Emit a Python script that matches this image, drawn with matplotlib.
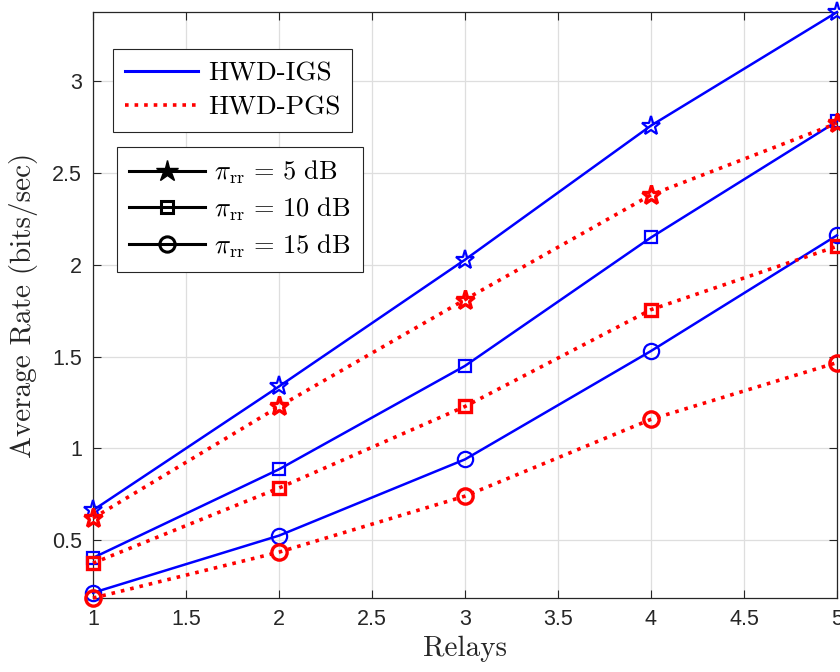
import numpy as np
import matplotlib
matplotlib.use("Agg")
import matplotlib.pyplot as plt
from matplotlib.lines import Line2D

# data
relays = [1, 2, 3, 4, 5]
igs_5db = [0.663, 1.337, 2.027, 2.757, 3.375]
igs_10db = [0.404, 0.886, 1.449, 2.148, 2.78]
igs_15db = [0.214, 0.525, 0.94, 1.53, 2.16]
pgs_5db = [0.62, 1.228, 1.81, 2.38, 2.77]
pgs_10db = [0.375, 0.784, 1.228, 1.755, 2.10]
pgs_15db = [0.185, 0.435, 0.74, 1.158, 1.467]

series_labels = ["HWD-IGS", "HWD-PGS"]
pi_labels = [r"$\pi_{\mathrm{rr}}\,=\,5\ \mathrm{dB}$",
             r"$\pi_{\mathrm{rr}}\,=\,10\ \mathrm{dB}$",
             r"$\pi_{\mathrm{rr}}\,=\,15\ \mathrm{dB}$"]

plt.rcParams["mathtext.fontset"] = "cm"
plt.rcParams["font.family"] = ["Liberation Sans", "DejaVu Sans"]
axcol = "#262626"

fig = plt.figure(figsize=(8.4, 6.72), dpi=100)
ax = fig.add_axes([0.1107, 0.110, 0.8857, 0.872])

markers = ["*", "s", "o"]
msizes = [14, 9, 11]
for ydata, m, ms in zip([igs_5db, igs_10db, igs_15db], markers, msizes):
    ax.plot(relays, ydata, "-", color="#0000ff", lw=1.8, marker=m, ms=ms,
            mfc="none", mec="#0000ff", mew=1.6, clip_on=False, zorder=3)
for ydata, m, ms in zip([pgs_5db, pgs_10db, pgs_15db], markers, msizes):
    ax.plot(relays, ydata, ":", color="#ff0000", lw=2.6, marker=m, ms=ms,
            mfc="none", mec="#ff0000", mew=2.4, clip_on=False, zorder=3)

ax.set_xlim(1, 5)
ax.set_ylim(0.185, 3.375)
ax.set_xticks(np.arange(1, 5.01, 0.5))
ax.set_xticklabels(["1", "1.5", "2", "2.5", "3", "3.5", "4", "4.5", "5"])
ax.set_yticks([0.5, 1, 1.5, 2, 2.5, 3])
ax.set_yticklabels(["0.5", "1", "1.5", "2", "2.5", "3"])
ax.grid(True, color="#dedede", lw=0.9)
ax.set_axisbelow(True)
ax.tick_params(direction="in", top=True, right=True, labelsize=15.5,
               colors=axcol, length=6, width=0.8, pad=8)
for s in ax.spines.values():
    s.set_color(axcol)
    s.set_linewidth(0.9)

ax.set_xlabel("Relays", family="cmr10", fontsize=21, color=axcol, labelpad=4)
ax.set_ylabel("Average Rate (bits/sec)", family="cmr10", fontsize=21,
              color=axcol, labelpad=10)

h1 = [Line2D([], [], color="#0000ff", lw=2.2, ls="-"),
      Line2D([], [], color="#ff0000", lw=2.6, ls=":")]
leg1 = ax.legend(h1, series_labels, loc="upper left",
                 bbox_to_anchor=(0.027, 0.937), borderaxespad=0,
                 fancybox=False, framealpha=1, edgecolor=axcol,
                 prop={"family": "cmr10", "size": 19.5}, handlelength=2.7,
                 handletextpad=0.35, borderpad=0.45, labelspacing=0.4)
leg1.get_frame().set_linewidth(0.8)
ax.add_artist(leg1)

h2 = [Line2D([], [], color="k", lw=2.2, marker="*", ms=16, mfc="k", mec="k"),
      Line2D([], [], color="k", lw=2.2, marker="s", ms=9, mfc="none", mec="k", mew=2.2),
      Line2D([], [], color="k", lw=2.2, marker="o", ms=11, mfc="none", mec="k", mew=2.2)]
leg2 = ax.legend(h2, pi_labels, loc="upper left",
                 bbox_to_anchor=(0.032, 0.770), borderaxespad=0,
                 fancybox=False, framealpha=1, edgecolor=axcol,
                 fontsize=19, handlelength=2.9, handletextpad=0.35,
                 borderpad=0.45, labelspacing=0.35)
leg2.get_frame().set_linewidth(0.8)

fig.savefig("out.png", dpi=100)
